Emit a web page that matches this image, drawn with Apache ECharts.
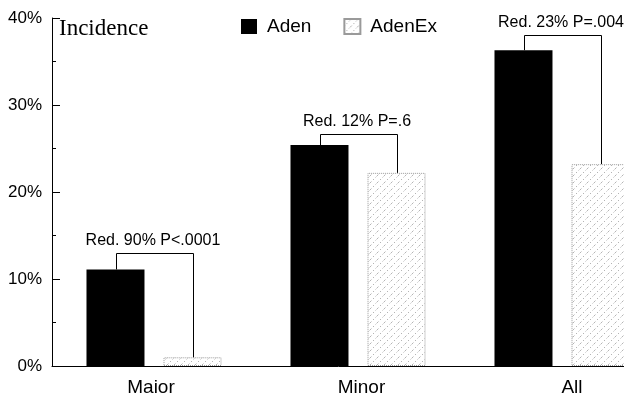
<!DOCTYPE html>
<html>
<head>
<meta charset="utf-8">
<script src="https://cdn.jsdelivr.net/npm/echarts@6/dist/echarts.min.js"></script>
<style>
html,body{margin:0;padding:0;background:#fff;}
#chart{width:624px;height:393px;}
</style>
</head>
<body>
<div id="chart"></div>
<script>
const categories = ['Maior', 'Minor', 'All'];
const adenValues = [11.1, 25.4, 36.3];
const adenExValues = [1.0, 22.2, 23.2];
const bracketTops = [13.0, 26.7, 38.0];
const bracketLabels = ['Red. 90% P<.0001', 'Red. 12% P=.6', 'Red. 23% P=.004'];
const yTicks = [0, 10, 20, 30, 40];

const BAR_W = 58, GAP = 19;
// label paddings [top,right,bottom,left] to nudge category labels as in the original
const LABEL_PAD = [[0, 6, 0, 0], [0, 0, 0, 7], [0, 0, 0, 20]];

// hatch pattern for AdenEx
const tile = document.createElement('canvas');
tile.width = 7; tile.height = 7;
const tctx = tile.getContext('2d');
tctx.fillStyle = '#ffffff';
tctx.fillRect(0, 0, 7, 7);
tctx.fillStyle = '#b4b4b4';
[[6,0],[2,4]].forEach(p => tctx.fillRect(p[0], p[1], 1, 1));
tctx.fillStyle = '#dcdcdc';
[[4,2],[0,6],[5,1]].forEach(p => tctx.fillRect(p[0], p[1], 1, 1));

const chart = echarts.init(document.getElementById('chart'), null, {renderer: 'canvas'});

const bracketData = categories.map((c, i) => [i, bracketTops[i], adenValues[i], adenExValues[i]]);

chart.setOption({
  animation: false,
  backgroundColor: '#ffffff',
  grid: {left: 52, top: 18, right: -40, bottom: 27, containLabel: false, outerBoundsMode: 'none'},
  graphic: [{
    type: 'text', left: 59, top: 17,
    style: {text: 'Incidence', font: '23px "Liberation Serif", "Times New Roman", serif', fill: '#000'}
  }],
  legend: {
    data: ['Aden', 'AdenEx'],
    left: 236, top: 12,
    itemWidth: 16, itemHeight: 15,
    itemGap: 32,
    icon: 'rect',
    textStyle: {fontFamily: '"Liberation Sans", Arial, sans-serif', fontSize: 19, color: '#000', padding: [0,0,0,5]}
  },
  xAxis: {
    type: 'category',
    data: categories.map((c, i) => ({value: c, textStyle: {padding: LABEL_PAD[i]}})),
    axisLine: {lineStyle: {color: '#000', width: 1}},
    axisTick: {show: false},
    axisLabel: {fontFamily: '"Liberation Sans", Arial, sans-serif', fontSize: 19, color: '#000', margin: 12}
  },
  yAxis: {
    type: 'value',
    min: 0, max: 40, interval: 10,
    axisLine: {show: true, lineStyle: {color: '#000', width: 1}},
    axisTick: {show: true, inside: true, length: 8, lineStyle: {color: '#000'}},
    minorTick: {show: true, splitNumber: 2, length: 4, lineStyle: {color: '#000'}},
    splitLine: {show: false},
    axisLabel: {
      fontFamily: '"Liberation Sans", Arial, sans-serif', fontSize: 17, color: '#000', margin: 10,
      formatter: v => yTicks.indexOf(v) >= 0 ? v + '%' : ''
    }
  },
  series: [
    {
      name: 'Aden', type: 'bar', data: adenValues,
      barWidth: BAR_W, barGap: (GAP / BAR_W * 100).toFixed(1) + '%',
      itemStyle: {color: '#000'}
    },
    {
      name: 'AdenEx', type: 'bar', data: adenExValues,
      barWidth: BAR_W,
      itemStyle: {
        color: {image: tile, repeat: 'repeat'},
        borderColor: '#9a9a9a', borderWidth: 1, borderType: 'dotted'
      }
    },
    {
      name: 'brackets', type: 'custom',
      data: bracketData,
      encode: {x: 0, y: 1},
      z: 5,
      renderItem: function (params, api) {
        const idx = api.value(0);
        const top = api.coord([idx, api.value(1)]);
        const leftBase = api.coord([idx, api.value(2)]);
        const rightBase = api.coord([idx, api.value(3)]);
        const off = (BAR_W + GAP) / 2;
        const xl = Math.round(top[0] - off) + 0.5;
        const xr = Math.round(top[0] + off) + 0.5;
        const yt = Math.round(top[1]) + 0.5;
        return {
          type: 'group',
          children: [
            {
              type: 'polyline',
              shape: {points: [[xl, leftBase[1]], [xl, yt], [xr, yt], [xr, rightBase[1]]]},
              style: {stroke: '#000', lineWidth: 1, fill: null}
            },
            {
              type: 'text',
              style: {
                x: top[0] - 1, y: yt - 13,
                text: bracketLabels[params.dataIndex],
                font: '16px "Liberation Sans", Arial, sans-serif',
                fill: '#000', align: 'center', verticalAlign: 'middle'
              }
            }
          ]
        };
      }
    }
  ]
});
</script>
</body>
</html>
